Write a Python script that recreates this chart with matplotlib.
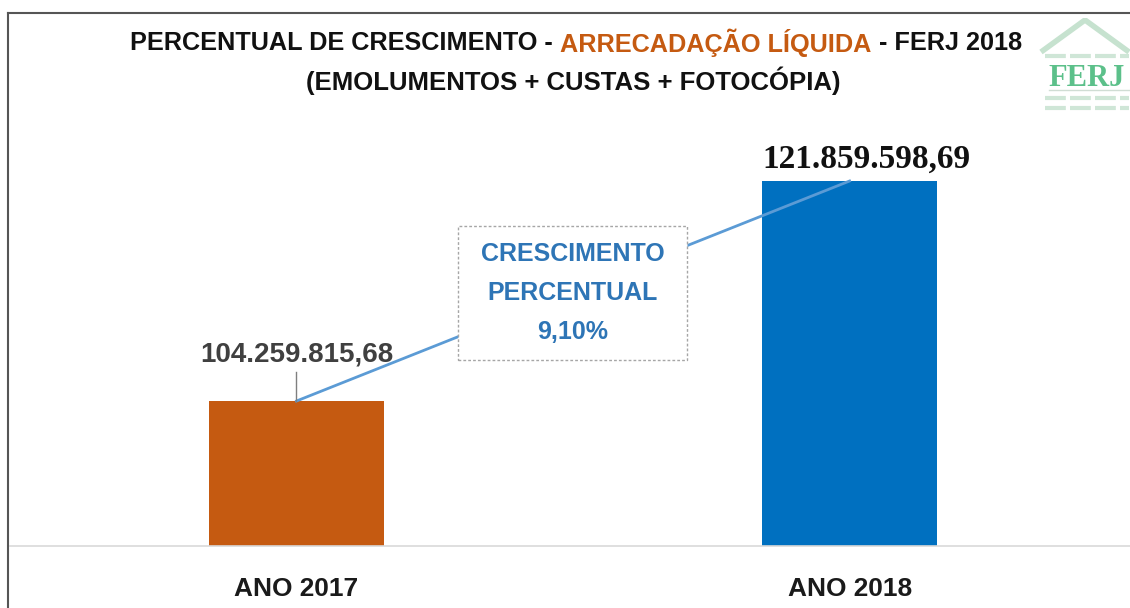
import numpy as np
import matplotlib
matplotlib.use("Agg")
import matplotlib.pyplot as plt
from matplotlib.lines import Line2D
from matplotlib.patches import Polygon

# data
anos = ["ANO 2017", "ANO 2018"]
valores = [104259815.68, 121859598.69]
rotulos = ["104.259.815,68", "121.859.598,69"]
crescimento = " CRESCIMENTO \nPERCENTUAL\n9,10%"
cores = ["#C55A11", "#0070C0"]

sans = ["Liberation Sans", "DejaVu Sans"]
serif = ["Liberation Serif", "DejaVu Serif"]
W, H = 1130, 608
fig = plt.figure(figsize=(W / 100, H / 100), dpi=100)

# axes area in pixels: x 10..1130, y 120..546 (from top)
ax = fig.add_axes([10 / W, (H - 546) / H, 1120 / W, 426 / H])
x = np.arange(len(anos))
ax.bar(x, valores, width=0.316, color=cores, zorder=2)
ax.set_xlim(-0.518, 1.507)
ax.set_ylim(92.66e6, 126.74e6)

for s in ["top", "right", "left"]:
    ax.spines[s].set_visible(False)
ax.spines["bottom"].set_color("#D9D9D9")
ax.spines["bottom"].set_linewidth(1.2)
ax.set_yticks([])
ax.set_xticks(x)
ax.set_xticklabels(anos, fontsize=18.9, fontweight="bold", family=sans, color="#1a1a1a")
ax.tick_params(axis="x", length=0, pad=22)

# line connecting the two bar tops
ax.plot(x, valores, color="#5B9BD5", lw=2, zorder=3)

# value labels
ax.plot([0, 0], [valores[0], valores[0] + 2.3e6], color="#7f7f7f", lw=1, zorder=3)
ax.text(0, valores[0] + 2.7e6, rotulos[0], ha="center", va="bottom", fontsize=20,
        fontweight="bold", family=sans, color="#404040")
ax.text(1.03, valores[1] + 0.5e6, rotulos[1], ha="center", va="bottom", fontsize=24,
        fontweight="bold", family=serif, color="#111111")

# growth box
ax.text(0.499, 112.9e6, crescimento, ha="center", va="center", fontsize=18,
        fontweight="bold", family=sans, color="#2E75B6", linespacing=1.8, zorder=5,
        bbox=dict(boxstyle="square,pad=0.62", fc="white", ec="#A6A6A6", ls=(0, (2, 1.5)), lw=1))

# title with coloured middle part
partes = ["PERCENTUAL DE CRESCIMENTO - ", "ARRECADAÇÃO LÍQUIDA", " - FERJ 2018"]
cores_t = ["#111111", "#C55A11", "#111111"]
txts = [fig.text(0, 1 - 43 / H, p, fontsize=18.2, fontweight="bold", family=sans,
                 color=c, va="center", ha="left") for p, c in zip(partes, cores_t)]
fig.canvas.draw()
r = fig.canvas.get_renderer()
larg = [t.get_window_extent(r).width for t in txts]
x0 = 576 - sum(larg) / 2
for t, w in zip(txts, larg):
    t.set_x(x0 / W)
    x0 += w
fig.text(573 / W, 1 - 81 / H, "(EMOLUMENTOS + CUSTAS + FOTOCÓPIA)", fontsize=18.5,
         fontweight="bold", family=sans, color="#111111", ha="center", va="center")

# FERJ logo (approximate)
lx = fig.add_axes([1035 / W, 1 - 118 / H, 95 / W, 100 / H])
lx.set_xlim(0, 95)
lx.set_ylim(0, 100)
lx.axis("off")
lx.add_patch(Polygon([[6, 66], [50, 98], [94, 66]], closed=False, fill=False,
                     ec="#c6e2cf", lw=4))
for yy in [62, 20, 10]:
    lx.plot([10, 94], [yy, yy], color="#cfe6d7", lw=3, ls=(0, (5, 1)))
lx.text(52, 40, "FERJ", ha="center", va="center", fontsize=22, fontweight="bold",
        family=serif, color="#5cc08a")
lx.plot([14, 94], [28, 28], color="#d0ddd4", lw=1)

# frame lines (top and left)
fig.add_artist(Line2D([8 / W, 1], [1 - 13 / H, 1 - 13 / H], color="#555555", lw=1.5))
fig.add_artist(Line2D([8 / W, 8 / W], [0, 1 - 13 / H], color="#555555", lw=1.5))

fig.savefig("out.png", dpi=100)
